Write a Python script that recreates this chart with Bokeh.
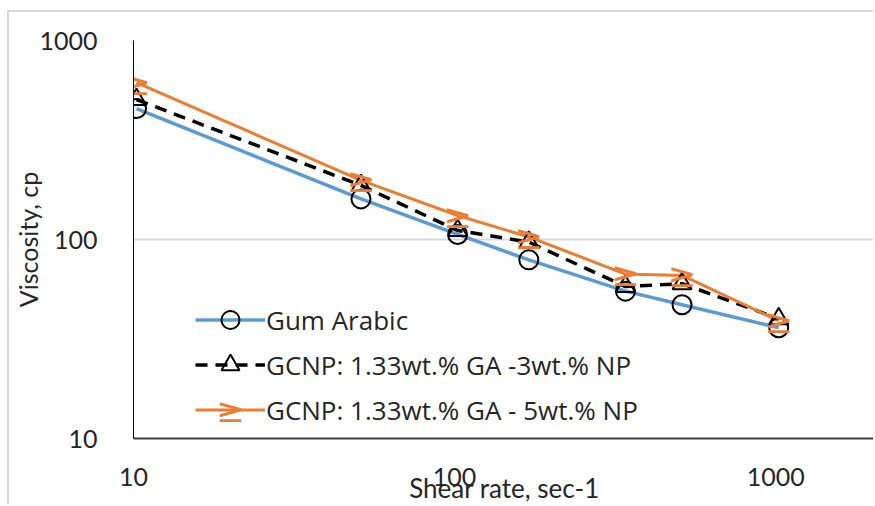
from bokeh.plotting import figure
from bokeh.models import (Range1d, FixedTicker, CustomJSTickFormatter, Legend, LegendItem,
                          Label, ColumnDataSource)
from bokeh.core.properties import value
from bokeh.embed import file_html
from bokeh.resources import INLINE

# ---- data ----
shear_rate = [10.22, 51.1, 102.2, 170.3, 340.6, 511, 1022]
gum_arabic = [455, 160, 106, 79, 55, 47, 36]
gcnp_3 = [505, 187, 111, 97, 58, 60, 40]
gcnp_5 = [615, 198, 132, 103, 67, 66, 39]
series_names = ["Gum Arabic",
                "GCNP: 1.33wt.% GA -3wt.% NP",
                "GCNP: 1.33wt.% GA - 5wt.% NP"]
x_ticks = [10, 100, 1000]
y_ticks = [10, 100, 1000]

BLUE = "#5B9BD5"
ORANGE = "#ED7D31"
TXT = "#262626"
GRID = "#D9D9D9"
MARK5 = "\u2265"

# canvas is offset by the outer chart border (7px + 2px left, 10px + 2px top)
p = figure(width=866, height=494, x_axis_type="log", y_axis_type="log",
           x_range=Range1d(10, 2046), y_range=Range1d(10, 1000),
           output_backend="svg", toolbar_location=None,
           min_border_left=124, min_border_right=0, min_border_top=28, min_border_bottom=68)
p.styles = {"margin-left": "7px", "margin-top": "10px",
            "border-left": "2px solid #D9D9D9", "border-top": "2px solid #D9D9D9"}
p.outline_line_color = None
p.background_fill_color = "white"
p.border_fill_color = "white"

# axes
for ax, ticks in ((p.xaxis[0], x_ticks), (p.yaxis[0], y_ticks)):
    ax.ticker = FixedTicker(ticks=ticks, minor_ticks=[])
    ax.formatter = CustomJSTickFormatter(code="return String(Math.round(tick));")
    ax.major_tick_line_color = None
    ax.minor_tick_line_color = None
    ax.major_label_text_font = "Lato"
    ax.major_label_text_font_size = "25px"
    ax.major_label_text_color = TXT
    ax.axis_label_text_font = "Lato"
    ax.axis_label_text_font_style = "normal"
    ax.axis_label_text_color = TXT

p.xaxis.axis_label = "Shear rate, sec-1"
p.yaxis.axis_label = "Viscosity, cp"
p.xaxis.axis_label_text_font_size = "26px"
p.yaxis.axis_label_text_font_size = "25px"
p.xaxis.axis_line_color = "#404040"
p.xaxis.axis_line_width = 2
p.yaxis.axis_line_color = "black"
p.yaxis.axis_line_width = 1
p.xaxis.major_label_standoff = 23
p.xaxis.axis_label_standoff = -17
p.yaxis.major_label_standoff = 30
p.yaxis.axis_label_standoff = -7

p.xgrid.grid_line_color = None
p.ygrid.grid_line_color = GRID
p.ygrid.grid_line_width = 2
p.ygrid.ticker = FixedTicker(ticks=[100, 1000])

src = ColumnDataSource(dict(x=shear_rate, ga=gum_arabic, g3=gcnp_3, g5=gcnp_5,
                            m=[MARK5] * len(shear_rate)))

l1 = p.line("x", "ga", source=src, line_color=BLUE, line_width=3.5)
l2 = p.line("x", "g3", source=src, line_color="black", line_width=3.5, line_dash="12 8")
l3 = p.line("x", "g5", source=src, line_color=ORANGE, line_width=3)

m1 = p.scatter("x", "ga", source=src, marker="circle", size=19, fill_alpha=0,
               line_color="black", line_width=2)
m2 = p.scatter("x", "g3", source=src, marker="triangle", size=19, fill_alpha=0,
               line_color="black", line_width=2)
m3 = p.text("x", "g5", text="m", source=src, text_color=ORANGE, text_font=value("DejaVu Sans"),
            text_font_size="34px", text_align="center", text_baseline="middle")

legend = Legend(items=[LegendItem(label=series_names[0], renderers=[l1, m1]),
                       LegendItem(label=series_names[1], renderers=[l2, m2]),
                       LegendItem(label=series_names[2], renderers=[l3])],
                location=(62, 6), orientation="vertical",
                glyph_width=70, glyph_height=45, label_height=20, spacing=-2,
                label_standoff=1, padding=0, margin=0,
                border_line_color=None, background_fill_alpha=0,
                label_text_font="Open Sans", label_text_font_size="26px",
                label_text_color=TXT)
p.add_layout(legend)

# orange marker drawn in the legend's third row (legend decoration)
p.add_layout(Label(x=97, y=28.5, x_units="screen", y_units="screen", text=MARK5,
                   text_color=ORANGE, text_font="DejaVu Sans", text_font_size="34px",
                   text_align="center", text_baseline="middle"))

open("out.html", "w").write(file_html(p, INLINE))
